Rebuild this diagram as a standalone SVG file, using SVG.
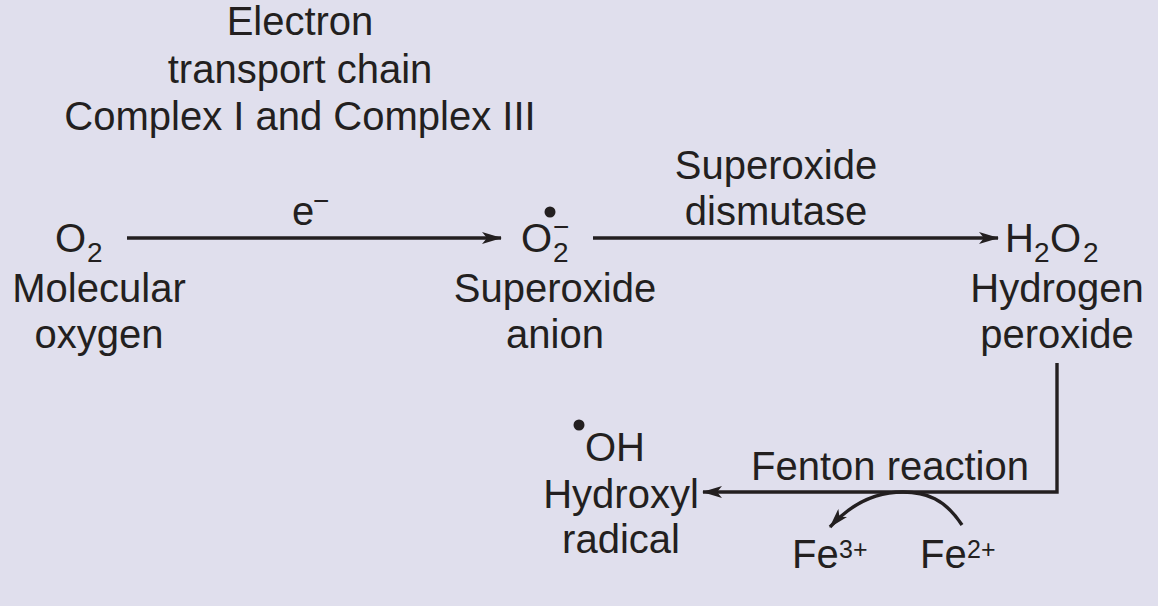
<svg xmlns="http://www.w3.org/2000/svg" width="1158" height="606" viewBox="0 0 1158 606">
<defs>
<style>
text{font-family:"Liberation Sans",Arial,sans-serif;font-size:40px;fill:#231f20}
.c{text-anchor:middle}
.s{font-size:28px}
.p{font-size:25px}
.ln{fill:none;stroke:#231f20;stroke-width:3.4}
</style>
<marker id="ah" viewBox="0 0 20 12" markerWidth="20" markerHeight="12" refX="19" refY="6" orient="auto" markerUnits="userSpaceOnUse">
<path d="M0,0 L20,6 L0,12 L5,6 z" fill="#231f20"/>
</marker>
</defs>
<rect width="1158" height="606" fill="#e0dfed"/>
<g id="etc-label">
<text class="c" x="300" y="35">Electron</text>
<text class="c" x="300" y="83">transport chain</text>
<text class="c" x="300" y="130">Complex I and Complex III</text>
</g>
<g id="o2">
<text x="55" y="252">O</text><text class="s" x="87" y="262">2</text>
<text class="c" x="99" y="302">Molecular</text>
<text class="c" x="99" y="348">oxygen</text>
</g>
<g id="superoxide">
<text x="521" y="252">O</text><text class="s" x="553" y="262">2</text><text class="s" x="553" y="236">−</text>
<circle cx="550" cy="212" r="5.5" fill="#231f20"/>
<text class="c" x="555" y="302">Superoxide</text>
<text class="c" x="555" y="348">anion</text>
</g>
<g id="h2o2">
<text x="1005" y="252">H</text><text class="s" x="1034" y="262">2</text><text x="1050" y="252">O</text><text class="s" x="1083" y="262">2</text>
<text class="c" x="1057" y="302">Hydrogen</text>
<text class="c" x="1057" y="348">peroxide</text>
</g>
<g id="oh">
<circle cx="579" cy="425" r="5.5" fill="#231f20"/>
<text x="585" y="461">OH</text>
<text class="c" x="621" y="508">Hydroxyl</text>
<text class="c" x="621" y="553">radical</text>
</g>
<g id="fe3">
<text x="792" y="568">Fe</text><text class="p" x="839" y="558">3+</text>
</g>
<g id="fe2">
<text x="920" y="568">Fe</text><text class="p" x="967" y="558">2+</text>
</g>
<g id="connectors">
<path class="ln" d="M127,238 H501" marker-end="url(#ah)"/>
<text x="292" y="225">e</text><text class="s" x="313" y="210">−</text>
<path class="ln" d="M593,238 H998" marker-end="url(#ah)"/>
<text class="c" x="776" y="179">Superoxide</text>
<text class="c" x="776" y="225">dismutase</text>
<path class="ln" d="M1057,363 V492 H703" marker-end="url(#ah)"/>
<text class="c" x="890" y="480">Fenton reaction</text>
<path class="ln" d="M962,525 C945,499 926,492 903,492 C875,492 850,505 830,527" marker-end="url(#ah)"/>
</g>
</svg>
